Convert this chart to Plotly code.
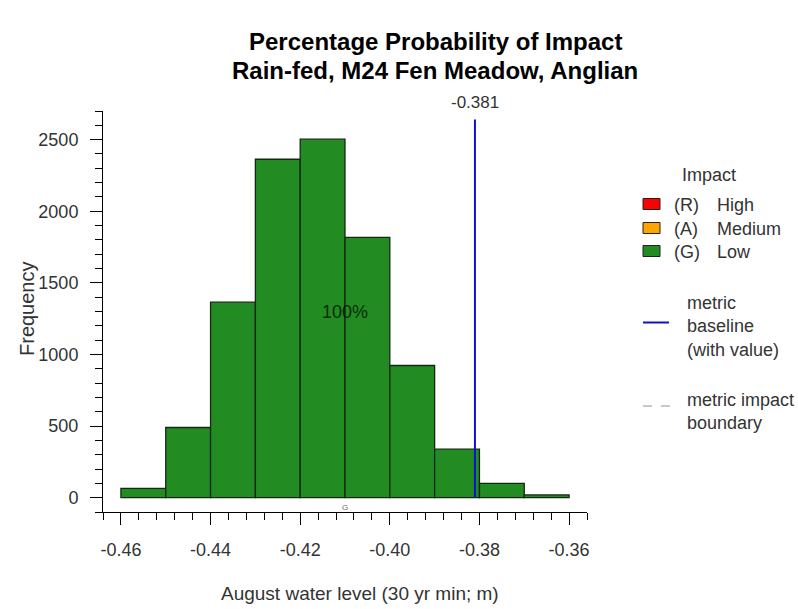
import plotly.graph_objects as go

# ---- data ----
bin_edges = [-0.46, -0.45, -0.44, -0.43, -0.42, -0.41, -0.40, -0.39, -0.38, -0.37, -0.36]
low_counts = [65, 490, 1365, 2363, 2503, 1818, 923, 339, 100, 19]
baseline_value = -0.381
x_ticks = [-0.46, -0.44, -0.42, -0.40, -0.38, -0.36]
y_ticks = [0, 500, 1000, 1500, 2000, 2500]
legend_labels = [("(R)", "High"), ("(A)", "Medium"), ("(G)", "Low")]
legend_colors = ["#ff0000", "#ffa500", "#228b22"]

centers = [(a + b) / 2 for a, b in zip(bin_edges[:-1], bin_edges[1:])]
widths = [b - a for a, b in zip(bin_edges[:-1], bin_edges[1:])]
pct_low = round(100 * sum(low_counts) / sum(low_counts))

FONT = "Liberation Sans, Arial, sans-serif"
TXT = "#333333"

fig = go.Figure()
fig.add_trace(go.Bar(
    x=centers, y=low_counts, width=widths,
    marker=dict(color="#228b22", line=dict(color="#142814", width=1.3)),
    showlegend=False, hoverinfo="x+y",
))

W, H = 798, 609
ML, MR, MT, MB = 103, 211, 111, 97
PW, PH = W - ML - MR, H - MT - MB


def px(x):
    return (x - ML) / PW


def py(y):
    return (H - MB - y) / PH


shapes = []
annotations = []


def label(x, y, text, size=18, color=TXT, xanchor="center", **kw):
    annotations.append(dict(xref="paper", yref="paper", x=px(x), y=py(y), xanchor=xanchor,
                            yanchor="middle", text=text, showarrow=False,
                            font=dict(size=size, color=color, family=FONT), **kw))


# baseline line
shapes.append(dict(type="line", xref="x", yref="y", x0=baseline_value, x1=baseline_value,
                   y0=0, y1=2640, line=dict(color="#1010d0", width=2), layer="above"))
annotations.append(dict(xref="x", yref="paper", x=baseline_value, y=py(103), yanchor="middle",
                        xanchor="center", text=f"{baseline_value:.3f}", showarrow=False,
                        font=dict(size=17, color=TXT, family=FONT)))
# percentage label
annotations.append(dict(xref="x", yref="y", x=-0.410, y=1300, text=f"{pct_low}%", showarrow=False,
                        xanchor="center",
                        font=dict(size=18, color="rgba(0,0,0,0.72)", family=FONT)))
annotations.append(dict(xref="x", yref="y", x=-0.410, y=-70, text="G", showarrow=False,
                        xanchor="center",
                        font=dict(size=8, color="#666666", family=FONT)))

# titles
label(435, 41, "<b>Percentage Probability of Impact</b>", size=24, color="black")
label(435, 70, "<b>Rain-fed, M24 Fen Meadow, Anglian</b>", size=24, color="black")
label(360, 593, "August water level (30 yr min; m)", size=19)
label(27, 309, "Frequency", size=20, textangle=-90)

# legend
label(680, 175, "Impact", size=18, xanchor="left")
row_y = [204, 228, 251]
for (code, name), col, yy in zip(legend_labels, legend_colors, row_y):
    shapes.append(dict(type="rect", xref="paper", yref="paper", x0=px(643), x1=px(660),
                       y0=py(yy + 5.5), y1=py(yy - 5.5), fillcolor=col,
                       line=dict(color="#222222", width=1)))
    label(672, yy + 1, code, size=18, xanchor="left")
    label(715, yy + 1, name, size=18, xanchor="left")

shapes.append(dict(type="line", xref="paper", yref="paper", x0=px(643), x1=px(669),
                   y0=py(322.5), y1=py(322.5), line=dict(color="#1010d0", width=2)))
label(685, 326, "metric<br>baseline<br>(with value)", size=18, xanchor="left", align="left")
shapes.append(dict(type="line", xref="paper", yref="paper", x0=px(643), x1=px(670),
                   y0=py(406), y1=py(406), line=dict(color="#c8c8c8", width=2, dash="dash")))
label(685, 411, "metric impact<br>boundary", size=18, xanchor="left", align="left")

fig.update_layout(
    width=W, height=H,
    margin=dict(l=ML, r=MR, t=MT, b=MB, autoexpand=False),
    paper_bgcolor="white", plot_bgcolor="white",
    font=dict(family=FONT, size=18, color=TXT),
    shapes=shapes, annotations=annotations,
    showlegend=False,
    xaxis=dict(range=[-0.464, -0.356], tickvals=x_ticks,
               ticktext=[f"{v:.2f}" for v in x_ticks],
               ticks="outside", ticklen=12, tickcolor="black", tickwidth=1,
               showline=True, linecolor="black", linewidth=1,
               showgrid=False, zeroline=False, ticklabelstandoff=9,
               tickfont=dict(size=18, color=TXT),
               minor=dict(dtick=0.004, tick0=-0.464, ticks="outside", ticklen=7,
                          tickcolor="black", showgrid=False)),
    yaxis=dict(range=[-100, 2700], tickvals=y_ticks,
               ticks="outside", ticklen=12, tickcolor="black", tickwidth=1,
               showline=True, linecolor="black", linewidth=1,
               showgrid=False, zeroline=False, ticklabelstandoff=8,
               tickfont=dict(size=18, color=TXT),
               minor=dict(dtick=100, tick0=0, ticks="outside", ticklen=7,
                          tickcolor="black", showgrid=False)),
)

fig.write_html("out.html", config={"displayModeBar": False},
               post_script="document.body.style.margin='0';document.body.style.overflow='hidden';")
